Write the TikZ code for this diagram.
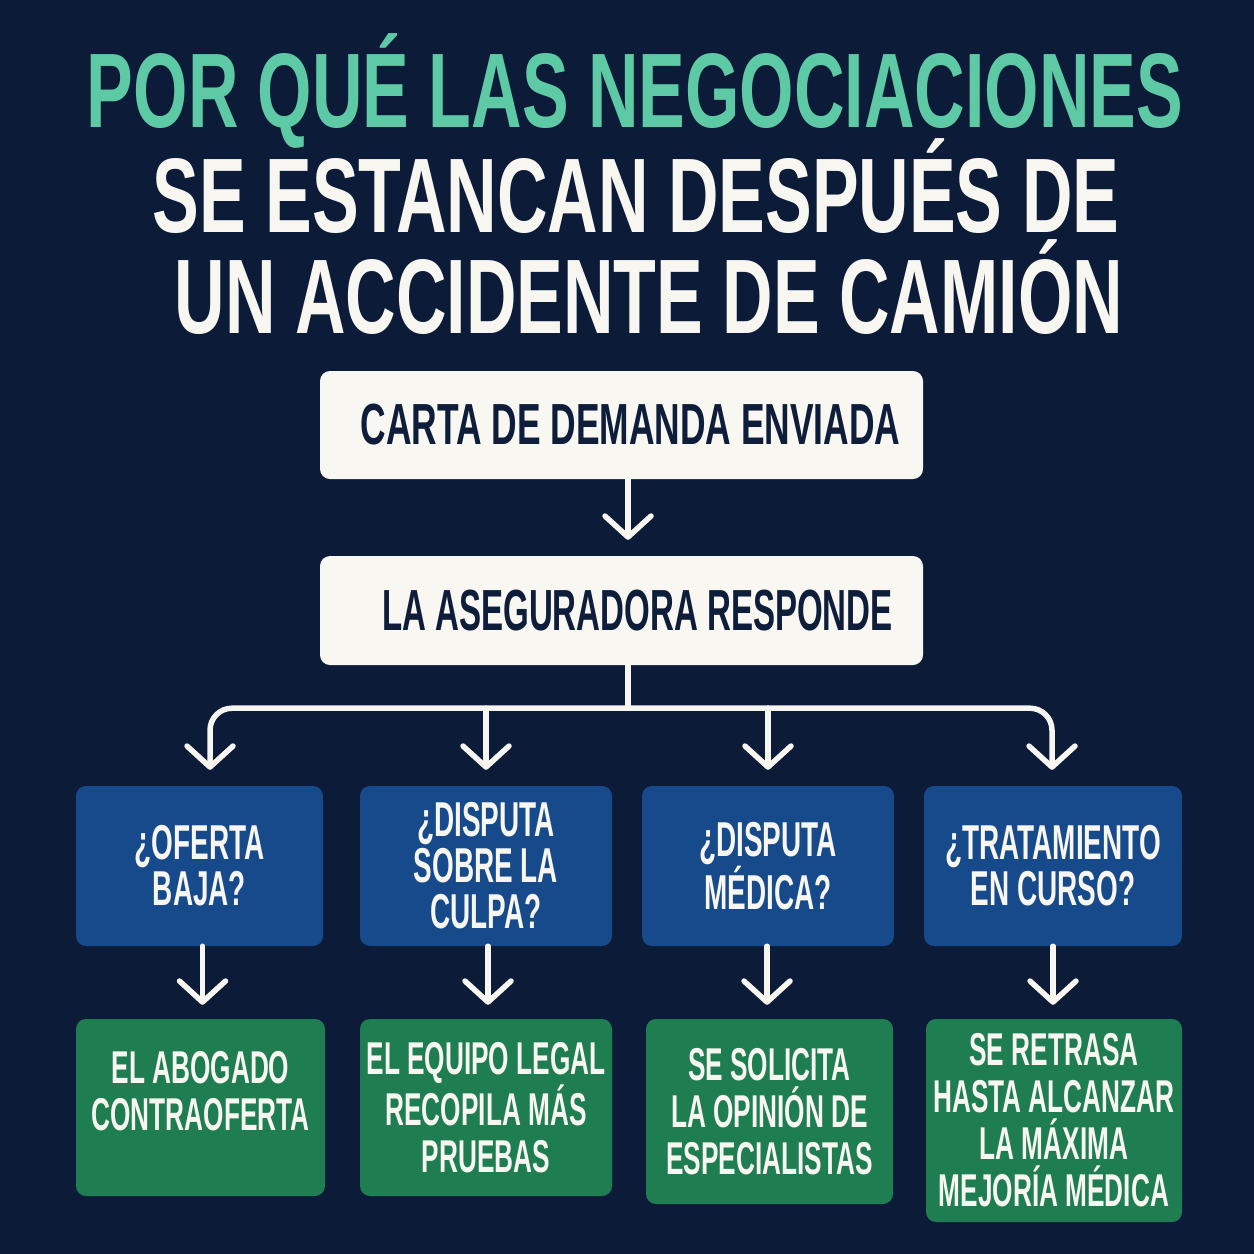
\documentclass[tikz,border=0pt]{standalone}
\usepackage{fontspec}
\setmainfont{Liberation Sans}
\newfontfamily\titlef[FakeStretch=0.66]{Liberation Sans}
\newfontfamily\bodyf[FakeStretch=0.57]{Liberation Sans}
\newfontfamily\stepf[FakeStretch=0.61]{Liberation Sans}
\usetikzlibrary{arrows.meta,calc}
\definecolor{bg}{HTML}{0B1B38}
\definecolor{mint}{HTML}{5DC9A5}
\definecolor{offwhite}{HTML}{F7F6F0}
\definecolor{boxwhite}{HTML}{F8F7F2}
\definecolor{navytxt}{HTML}{0E1D3A}
\definecolor{qblue}{HTML}{174A8B}
\definecolor{agreen}{HTML}{1F7E51}
\begin{document}
\begin{tikzpicture}[x=1pt,y=-1pt,
  titletxt/.style={anchor=base, inner sep=0pt, font=\titlef\bfseries\fontsize{106}{106}\selectfont},
  basebox/.style={rectangle, rounded corners=10pt, inner sep=0pt, align=center},
  stepwhite/.style={basebox, fill=boxwhite, text=navytxt, font=\bodyf\bfseries\fontsize{58}{58}\selectfont},
  question/.style={basebox, fill=qblue, text=offwhite, font=\bodyf\bfseries\fontsize{49}{46}\selectfont},
  answer/.style={basebox, fill=agreen, text=offwhite, font=\bodyf\bfseries\fontsize{46}{47}\selectfont},
  conn/.style={draw=offwhite, line width=5.5pt, line cap=round, line join=round},
  arr/.style={conn, -{Straight Barb[length=21pt, width=46pt, round]}}
]
\fill[bg] (0,0) rectangle (1254,1254);
\useasboundingbox (0,0) rectangle (1254,1254);

% title
\node[titletxt, text=mint] (t1) at (635,127) {POR QUÉ LAS NEGOCIACIONES};
\node[titletxt, text=offwhite] (t2) at (636,232) {SE ESTANCAN DESPUÉS DE};
\node[titletxt, text=offwhite] (t3) at (649,333) {UN ACCIDENTE DE CAMIÓN};

% main steps
\node[stepwhite, minimum width=603pt, minimum height=108pt, font=\stepf\bfseries\fontsize{58}{58}\selectfont] (b1) at (621.5,425) {\hspace*{18pt}CARTA DE DEMANDA ENVIADA};
\node[stepwhite, minimum width=603pt, minimum height=109pt] (b2) at (621.5,610.5) {\hspace*{32pt}LA ASEGURADORA RESPONDE};

% questions
\node[question, minimum width=247pt, minimum height=160pt] (q1) at (199.5,866) {¿OFERTA\\BAJA?};
\node[question, minimum width=252pt, minimum height=160pt] (q2) at (486,866) {¿DISPUTA\\SOBRE LA\\CULPA?};
\node[question, minimum width=252pt, minimum height=160pt] (q3) at (768,866) {¿DISPUTA\\MÉDICA?};
\node[question, minimum width=258pt, minimum height=160pt] (q4) at (1053,866) {¿TRATAMIENTO\\EN CURSO?};

% answers
\node[answer, minimum width=249pt, minimum height=177pt] (g1) at (200.5,1107.5) {EL ABOGADO\\CONTRAOFERTA\\[-14pt]\mbox{}};
\node[answer, minimum width=252pt, minimum height=177pt] (g2) at (486,1107.5) {EL EQUIPO LEGAL\\RECOPILA MÁS\\PRUEBAS};
\node[answer, minimum width=247pt, minimum height=185pt] (g3) at (769.5,1111.5) {SE SOLICITA\\LA OPINIÓN DE\\ESPECIALISTAS};
\node[answer, minimum width=256pt, minimum height=203pt] (g4) at (1054,1120.5) {SE RETRASA\\HASTA ALCANZAR\\LA MÁXIMA\\MEJORÍA MÉDICA};

% connectors
\draw[arr, shorten >=16pt] ([xshift=6.5pt]b1.south) -- ([xshift=6.5pt]b2.north);
\draw[conn] ([xshift=6.5pt]b2.south) -- ++(0,43) coordinate (j);
\draw[arr, rounded corners=22pt, shorten >=16pt] (j) -| ([xshift=10.5pt]q1.north);
\draw[arr, shorten >=16pt] (j -| q2.north) -- (q2.north);
\draw[arr, shorten >=16pt] (j -| q3.north) -- (q3.north);
\draw[arr, rounded corners=22pt, shorten >=16pt] (j) -| ([xshift=-1pt]q4.north);

\draw[arr, shorten >=14pt] ([xshift=3pt]q1.south) -- ([xshift=3pt]q1.south |- g1.north);
\draw[arr, shorten >=14pt] ([xshift=2pt]q2.south) -- ([xshift=2pt]q2.south |- g2.north);
\draw[arr, shorten >=14pt] ([xshift=-1pt]q3.south) -- ([xshift=-1pt]q3.south |- g3.north);
\draw[arr, shorten >=14pt] (q4.south) -- (q4.south |- g4.north);
\end{tikzpicture}
\end{document}
